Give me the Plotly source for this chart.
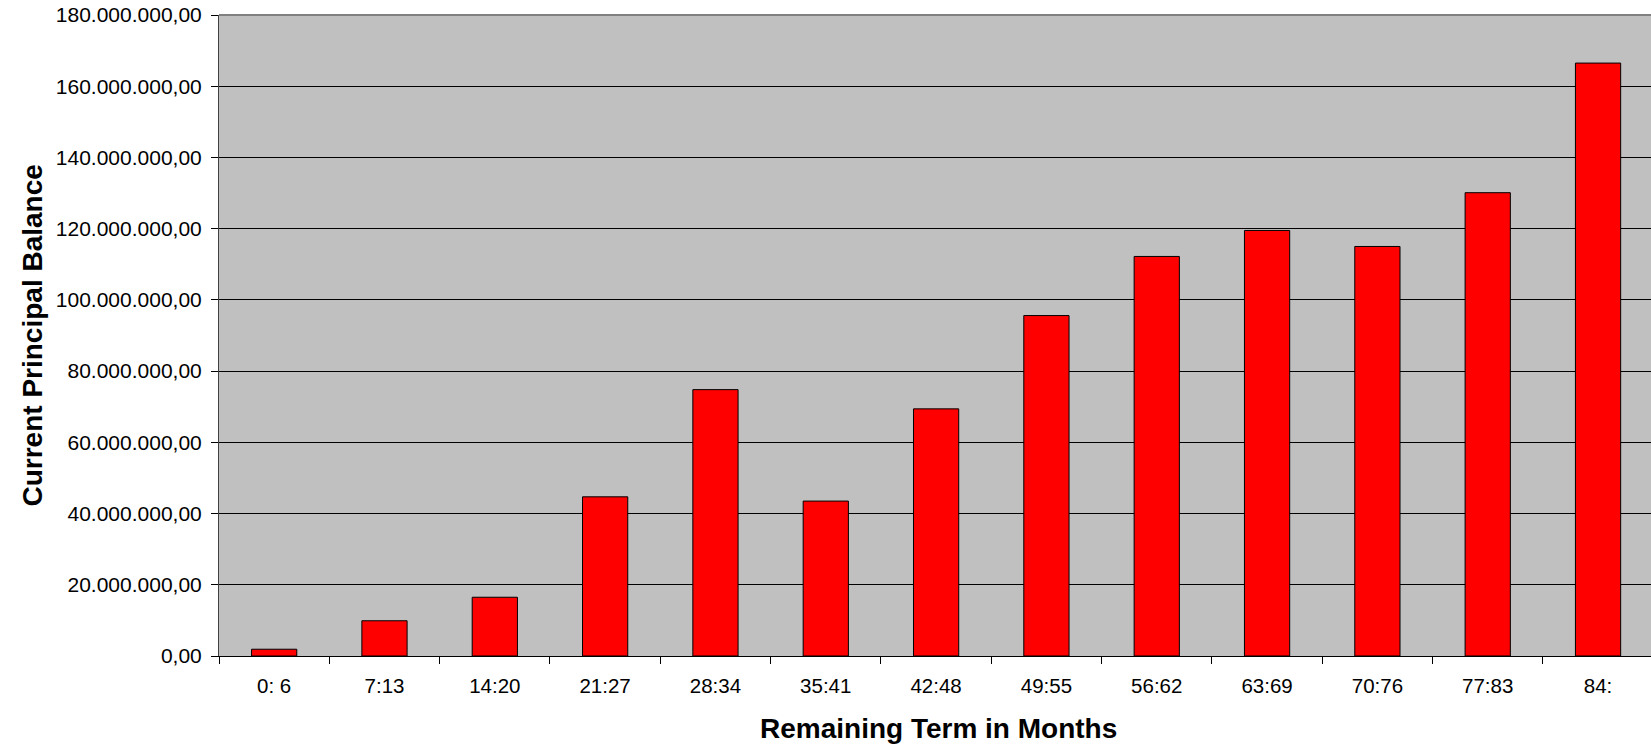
import plotly.graph_objects as go

# Remaining-term buckets (months) and current principal balance per bucket
term_buckets = ["0: 6", "7:13", "14:20", "21:27", "28:34", "35:41", "42:48",
                "49:55", "56:62", "63:69", "70:76", "77:83", "84:"]
principal_balance = [1.9e6, 9.9e6, 16.5e6, 44.7e6, 74.8e6, 43.5e6, 69.4e6,
                     95.6e6, 112.2e6, 119.5e6, 115.0e6, 130.1e6, 166.5e6]

y_ticks = [0, 20e6, 40e6, 60e6, 80e6, 100e6, 120e6, 140e6, 160e6, 180e6]

FONT = "Liberation Sans, Arial, sans-serif"

W, H = 1651, 748
L, R, T, B = 219, 0, 15, 92
plot_w = W - L - R
plot_h = H - T - B

fig = go.Figure(
    go.Bar(
        x=term_buckets,
        y=principal_balance,
        marker=dict(color="#FF0000", line=dict(color="#000000", width=1)),
    )
)

fig.update_layout(
    width=W,
    height=H,
    margin=dict(l=L, r=R, t=T, b=B, autoexpand=False),
    paper_bgcolor="white",
    plot_bgcolor="#C0C0C0",
    bargap=0.59,
    separators=",.",
    showlegend=False,
    font=dict(family=FONT, color="black", size=20),
)

fig.update_xaxes(
    type="category",
    range=[-0.5, len(term_buckets) - 0.52],
    tickson="boundaries",
    ticks="outside",
    ticklen=7,
    tickcolor="#000000",
    tickwidth=1,
    showline=True,
    linecolor="#000000",
    linewidth=1,
    showgrid=False,
    tickfont=dict(family=FONT, size=20.5, color="black"),
    ticklabelstandoff=11,
)

fig.update_yaxes(
    range=[0, 180e6],
    tickvals=y_ticks,
    tickformat=",.2f",
    ticks="outside",
    ticklen=7,
    tickcolor="#000000",
    tickwidth=1,
    showline=True,
    linecolor="#404040",
    linewidth=1,
    showgrid=True,
    gridcolor="#000000",
    gridwidth=1,
    zeroline=False,
    tickfont=dict(family=FONT, size=21, color="black"),
    ticklabelstandoff=5,
)

# top frame line of the plot area
fig.add_shape(type="line", xref="paper", yref="paper", x0=0, x1=1, y0=1, y1=1,
              line=dict(color="#808080", width=2))

# axis titles
fig.add_annotation(
    text="<b>Remaining Term in Months</b>",
    xref="paper", yref="paper",
    x=(938 - L) / plot_w, y=(T + plot_h - 728) / plot_h,
    xanchor="center", yanchor="middle", showarrow=False,
    font=dict(family=FONT, size=28, color="black"),
)
fig.add_annotation(
    text="<b>Current Principal Balance</b>",
    xref="paper", yref="paper",
    x=(32 - L) / plot_w, y=0.5,
    xanchor="center", yanchor="middle", textangle=-90, showarrow=False,
    font=dict(family=FONT, size=28, color="black"),
)

fig.write_html("out.html")
